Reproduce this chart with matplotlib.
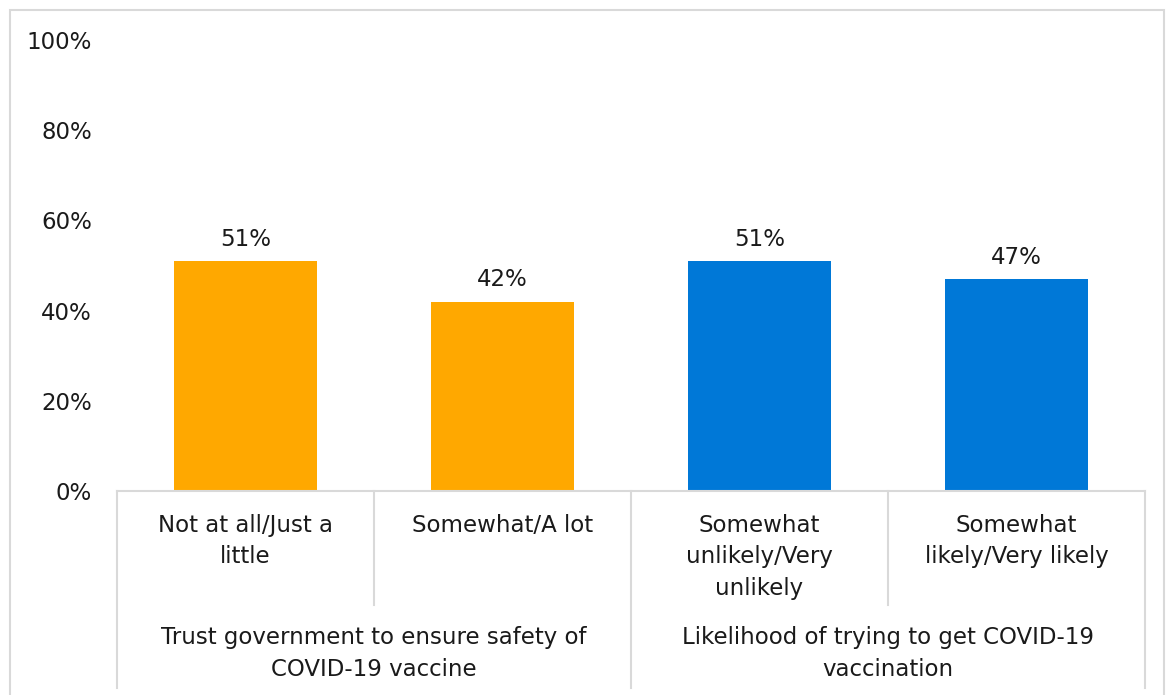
import matplotlib
matplotlib.use("Agg")
import matplotlib.pyplot as plt
from matplotlib.patches import Rectangle

categories = ["Not at all/Just a\nlittle", "Somewhat/A lot",
              "Somewhat\nunlikely/Very\nunlikely", "Somewhat\nlikely/Very likely"]
values = [51, 42, 51, 47]
colors = ["#FFA800", "#FFA800", "#0078D7", "#0078D7"]
groups = ["Trust government to ensure safety of\nCOVID-19 vaccine",
          "Likelihood of trying to get COVID-19\nvaccination"]
yticks = [0, 20, 40, 60, 80, 100]

plt.rcParams['font.family'] = ['DejaVu Sans']
fs = 16.5
tc = '#1a1a1a'
fig = plt.figure(figsize=(11.67, 6.95), dpi=100)
ax = fig.add_axes([117/1167, 1 - 491/695, (1145 - 117)/1167, 451/695])

x = list(range(len(categories)))
ax.bar(x, values, width=0.556, color=colors)
for xi, v in zip(x, values):
    ax.text(xi, v + 2.3, f"{v}%", ha='center', va='bottom', fontsize=fs, color=tc)

ax.set_xlim(-0.5, 3.5)
ax.set_ylim(0, 100)
ax.set_yticks(yticks)
ax.set_yticklabels([f"{t}%" for t in yticks], fontsize=fs, color=tc)
ax.tick_params(axis='y', length=0, pad=18)
ax.set_xticks([])
for s in ax.spines.values():
    s.set_visible(False)

lc = '#D9D9D9'
trans = ax.get_xaxis_transform()
ax.plot([-0.5, 3.5], [0, 0], color=lc, lw=1.5, transform=trans, clip_on=False)
for b in [-0.5, 1.5, 3.5]:
    ax.plot([b, b], [0, -0.437], color=lc, lw=1.5, transform=trans, clip_on=False)
for b in [0.5, 2.5]:
    ax.plot([b, b], [0, -0.253], color=lc, lw=1.5, transform=trans, clip_on=False)

for xi, c in zip(x, categories):
    ax.text(xi, -0.05, c, ha='center', va='top', fontsize=fs, color=tc,
            linespacing=1.48, transform=trans)
for gi, g in enumerate(groups):
    ax.text(gi * 2 + 0.5, -0.3, g, ha='center', va='top', fontsize=fs,
            color=tc, linespacing=1.48, transform=trans)

fig.patches.append(Rectangle((10/1167, -0.01), 1154/1167, 0.01 + 685/695,
                             transform=fig.transFigure, fill=False,
                             edgecolor=lc, lw=1.5))

fig.savefig("out.png", dpi=100)
